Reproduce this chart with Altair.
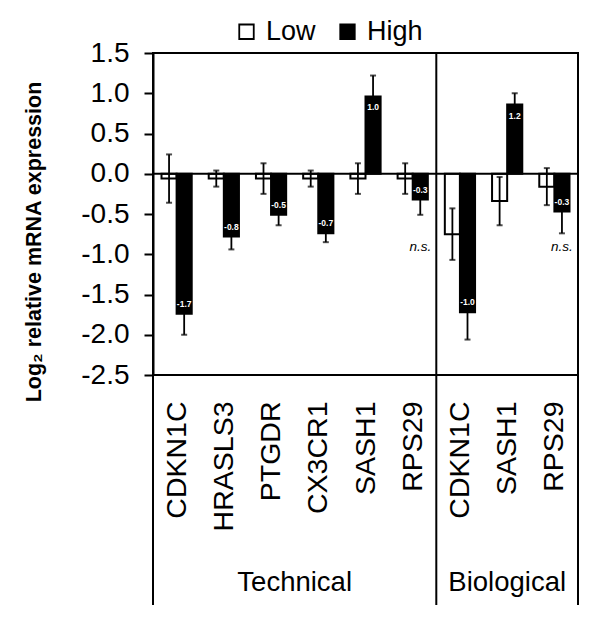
import altair as alt
import pandas as pd

# ---- data ----
genes = ["CDKN1C", "HRASLS3", "PTGDR", "CX3CR1", "SASH1", "RPS29", "CDKN1C", "SASH1", "RPS29"]
groups = ["Technical"] * 6 + ["Biological"] * 3
low_vals = [-0.06, -0.06, -0.06, -0.06, -0.06, -0.06, -0.75, -0.34, -0.16]
low_err = [0.30, 0.10, 0.19, 0.10, 0.19, 0.19, 0.32, 0.30, 0.23]
high_vals = [-1.74, -0.78, -0.51, -0.74, 0.96, -0.32, -1.72, 0.86, -0.47]
high_err = [0.26, 0.16, 0.13, 0.11, 0.26, 0.19, 0.34, 0.14, 0.27]
high_labels = ["-1.7", "-0.8", "-0.5", "-0.7", "1.0", "-0.3", "-1.0", "1.2", "-0.3"]
not_significant = [False, False, False, False, False, True, False, False, True]
series = ["Low", "High"]
y_ticks = [1.5, 1.0, 0.5, 0.0, -0.5, -1.0, -1.5, -2.0, -2.5]

FONT = "Liberation Sans"

keys = [f"{g[0]}:{n}" for g, n in zip(groups, genes)]

rows = []
for i, k in enumerate(keys):
    rows.append(dict(key=k, series="Low", value=low_vals[i], err=low_err[i], label="", ns=False))
    rows.append(dict(key=k, series="High", value=high_vals[i], err=high_err[i],
                     label=high_labels[i], ns=not_significant[i]))
df = pd.DataFrame(rows)
df["lo"] = df["value"] - df["err"]
df["hi"] = df["value"] + df["err"]

x_enc = alt.X(
    "key:N", sort=keys,
    scale=alt.Scale(paddingInner=0.36, paddingOuter=0.18),
    axis=alt.Axis(title=None, labelExpr="substring(datum.label, 2)", labelAngle=270,
                  labelFontSize=28.5, labelFont=FONT, labelColor="black", ticks=False,
                  domain=False, labelPadding=26),
)
xo_enc = alt.XOffset("series:N", sort=series,
                     scale=alt.Scale(domain=series, paddingInner=0, paddingOuter=0))
y_scale = alt.Scale(domain=[-2.5, 1.5], nice=False)

base = alt.Chart(df)

bars = base.mark_bar(stroke="black", strokeWidth=2).encode(
    x=x_enc,
    xOffset=xo_enc,
    y=alt.Y("value:Q", scale=y_scale,
            axis=alt.Axis(title=None, values=y_ticks,
                          labelExpr="(datum.value < 0 ? '-' : '') + format(abs(datum.value), '.1f')",
                          labelFontSize=28, labelFont=FONT, labelColor="black",
                          tickSize=9, tickWidth=2, tickColor="black",
                          domainColor="black", domainWidth=2, labelPadding=15,
                          grid=False, labelOverlap=False)),
    fill=alt.Fill("series:N", sort=series,
                  scale=alt.Scale(domain=series, range=["white", "black"]),
                  legend=alt.Legend(orient="none", legendX=80, legendY=-35, direction="horizontal",
                                    title=None, symbolType="square", symbolSize=210,
                                    symbolStrokeColor="black", symbolStrokeWidth=1.8,
                                    labelFontSize=27, labelFont=FONT, labelColor="black",
                                    labelOffset=6, columnPadding=18, symbolOpacity=1)),
)

zero_line = alt.Chart(pd.DataFrame({"z": [0.0]})).mark_rule(color="black", strokeWidth=2).encode(
    y=alt.Y("z:Q", scale=y_scale))

err_rule = base.mark_rule(color="black", strokeWidth=1.8).encode(
    x=x_enc, xOffset=xo_enc, y=alt.Y("lo:Q", scale=y_scale), y2="hi:Q")
cap_lo = base.mark_tick(color="black", thickness=2, size=6, orient="horizontal").encode(
    x=x_enc, xOffset=xo_enc, y=alt.Y("lo:Q", scale=y_scale))
cap_hi = base.mark_tick(color="black", thickness=2, size=6, orient="horizontal").encode(
    x=x_enc, xOffset=xo_enc, y=alt.Y("hi:Q", scale=y_scale))

lab_neg = base.transform_filter("datum.series == 'High' && datum.value < 0").mark_text(
    color="white", fontWeight="bold", fontSize=8.5, font=FONT, dy=-10, baseline="middle").encode(
    x=x_enc, xOffset=xo_enc, y=alt.Y("value:Q", scale=y_scale), text="label:N")
lab_pos = base.transform_filter("datum.series == 'High' && datum.value > 0").mark_text(
    color="white", fontWeight="bold", fontSize=8.5, font=FONT, dy=11, baseline="middle").encode(
    x=x_enc, xOffset=xo_enc, y=alt.Y("value:Q", scale=y_scale), text="label:N")

ns_text = base.transform_filter("datum.ns").mark_text(
    fontStyle="italic", fontSize=13.5, font=FONT, color="black", baseline="middle").encode(
    x=x_enc, xOffset=xo_enc, y=alt.value(194), text=alt.value("n.s."))

# frame extensions below the plot and group labels
frame = alt.Chart(pd.DataFrame({"xp": [0.0, 283.3, 425.0]})).mark_rule(
    color="black", strokeWidth=2).encode(
    x=alt.X("xp:Q", scale=None), y=alt.value(0), y2=alt.value(552))

group_lbl = alt.Chart(pd.DataFrame({"g": ["Technical", "Biological"], "xp": [141.7, 354.2]})).mark_text(
    fontSize=27.5, font=FONT, color="black", baseline="middle").encode(
    x=alt.X("xp:Q", scale=None), y=alt.value(530), text="g:N")

y_title = alt.Chart(pd.DataFrame({"t": ["Log₂ relative mRNA expression"]})).mark_text(
    fontSize=21.5, font=FONT, fontWeight="bold", angle=270, color="black",
    align="center", baseline="alphabetic").encode(
    x=alt.value(-112), y=alt.value(189), text="t:N")

chart = alt.layer(
    bars, zero_line, err_rule, cap_lo, cap_hi, lab_neg, lab_pos, ns_text, frame, group_lbl, y_title
).properties(
    width=425, height=322,
    autosize=alt.AutoSizeParams(type="none"),
    padding={"left": 145, "top": 45, "right": 10, "bottom": 240},
).configure_view(stroke="black", strokeWidth=2)

chart.save("out.html", embed_options={"renderer": "svg", "actions": False})
